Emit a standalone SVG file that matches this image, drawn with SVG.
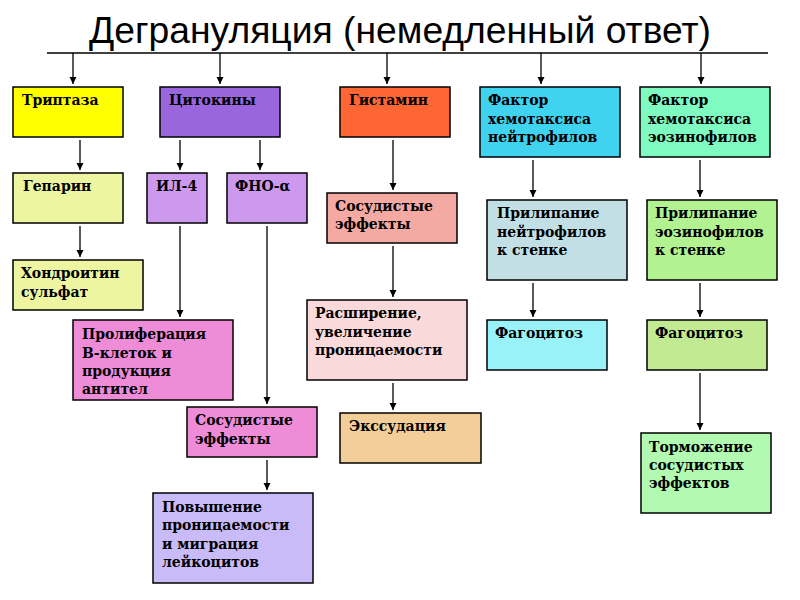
<svg xmlns="http://www.w3.org/2000/svg" width="800" height="600" viewBox="0 0 800 600">
<defs>
<marker id="ah" markerUnits="userSpaceOnUse" markerWidth="8" markerHeight="8" refX="7" refY="4" orient="auto">
<path d="M0,0.5 L7,4 L0,7.5 z" fill="#000"/>
</marker>
<style>
.b{stroke:#000;stroke-width:1.5}
.t{font-family:"DejaVu Serif","Liberation Serif",serif;font-weight:bold;font-size:14px;fill:#000}
.c line{stroke:#000;stroke-width:1.3;marker-end:url(#ah)}
</style>
</defs>
<rect width="800" height="600" fill="#fff"/>
<text x="400" y="43" text-anchor="middle" textLength="622" lengthAdjust="spacingAndGlyphs" style="font-family:'Liberation Sans',Arial,sans-serif;font-size:37px;fill:#000">Дегрануляция (немедленный ответ)</text>
<line x1="47" y1="53" x2="768" y2="53" stroke="#000" stroke-width="1.3"/>

<g id="connectors" class="c">
<line x1="73" y1="53" x2="73" y2="84"/>
<line x1="220" y1="53" x2="220" y2="84"/>
<line x1="387" y1="53" x2="387" y2="84"/>
<line x1="541" y1="53" x2="541" y2="84"/>
<line x1="701" y1="53" x2="701" y2="84"/>
<line x1="80" y1="140" x2="80" y2="170"/>
<line x1="180" y1="140" x2="180" y2="170"/>
<line x1="260" y1="140" x2="260" y2="170"/>
<line x1="393" y1="140" x2="393" y2="190"/>
<line x1="533" y1="160" x2="533" y2="197"/>
<line x1="700" y1="160" x2="700" y2="197"/>
<line x1="80" y1="226" x2="80" y2="257"/>
<line x1="180" y1="226" x2="180" y2="317"/>
<line x1="267" y1="226" x2="267" y2="404"/>
<line x1="393" y1="246" x2="393" y2="297"/>
<line x1="533" y1="283" x2="533" y2="317"/>
<line x1="700" y1="283" x2="700" y2="317"/>
<line x1="393" y1="383" x2="393" y2="410"/>
<line x1="267" y1="460" x2="267" y2="490"/>
<line x1="700" y1="373" x2="700" y2="430"/>
</g>

<g id="triptaza"><rect class="b" x="13" y="87" width="110" height="50" fill="#FFFF00"/><text class="t" x="22" y="105">Триптаза</text></g>
<g id="citokiny"><rect class="b" x="160" y="87" width="120" height="50" fill="#9966DD"/><text class="t" x="169" y="105">Цитокины</text></g>
<g id="gistamin"><rect class="b" x="340" y="87" width="110" height="50" fill="#FF6633"/><text class="t" x="349" y="105">Гистамин</text></g>
<g id="faktor_n"><rect class="b" x="480" y="87" width="140" height="70" fill="#3FD3F0"/><text class="t" x="488" y="105">Фактор</text><text class="t" x="488" y="123.5">хемотаксиса</text><text class="t" x="488" y="142">нейтрофилов</text></g>
<g id="faktor_e"><rect class="b" x="640" y="87" width="130" height="70" fill="#7FFAC0"/><text class="t" x="648" y="105">Фактор</text><text class="t" x="648" y="123.5">хемотаксиса</text><text class="t" x="648" y="142">эозинофилов</text></g>

<g id="geparin"><rect class="b" x="13" y="173" width="110" height="50" fill="#EEF5A0"/><text class="t" x="23" y="191">Гепарин</text></g>
<g id="il4"><rect class="b" x="147" y="173" width="60" height="50" fill="#CC99EE"/><text class="t" x="156" y="191">ИЛ-4</text></g>
<g id="fno"><rect class="b" x="227" y="173" width="80" height="50" fill="#CC99EE"/><text class="t" x="235" y="191">ФНО-α</text></g>
<g id="sosud1"><rect class="b" x="327" y="193" width="130" height="50" fill="#F4AAA2"/><text class="t" x="335" y="211">Сосудистые</text><text class="t" x="335" y="229">эффекты</text></g>
<g id="prilip_n"><rect class="b" x="487" y="200" width="140" height="80" fill="#C2DFE6"/><text class="t" x="497" y="218">Прилипание</text><text class="t" x="497" y="236.5">нейтрофилов</text><text class="t" x="497" y="255">к стенке</text></g>
<g id="prilip_e"><rect class="b" x="647" y="200" width="130" height="80" fill="#B2F290"/><text class="t" x="655" y="218">Прилипание</text><text class="t" x="655" y="236.5">эозинофилов</text><text class="t" x="655" y="255">к стенке</text></g>

<g id="hondroitin"><rect class="b" x="13" y="260" width="130" height="50" fill="#EEF5A0"/><text class="t" x="21" y="278">Хондроитин</text><text class="t" x="21" y="297">сульфат</text></g>
<g id="prolif"><rect class="b" x="73" y="320" width="160" height="80" fill="#EE8CD8"/><text class="t" x="82" y="339">Пролиферация</text><text class="t" x="82" y="357.5">В-клеток и</text><text class="t" x="82" y="376">продукция</text><text class="t" x="82" y="394">антител</text></g>
<g id="rasshir"><rect class="b" x="307" y="300" width="160" height="80" fill="#F9D9D9"/><text class="t" x="315" y="318">Расширение,</text><text class="t" x="315" y="337">увеличение</text><text class="t" x="315" y="355">проницаемости</text></g>
<g id="fago_n"><rect class="b" x="487" y="320" width="120" height="50" fill="#99F2F8"/><text class="t" x="495" y="338">Фагоцитоз</text></g>
<g id="fago_e"><rect class="b" x="647" y="320" width="120" height="50" fill="#C2EA92"/><text class="t" x="655" y="338">Фагоцитоз</text></g>

<g id="sosud2"><rect class="b" x="187" y="407" width="130" height="50" fill="#EE8CD8"/><text class="t" x="195" y="425">Сосудистые</text><text class="t" x="195" y="444">эффекты</text></g>
<g id="ekssud"><rect class="b" x="340" y="413" width="141" height="50" fill="#F4CE98"/><text class="t" x="349" y="431">Экссудация</text></g>
<g id="povysh"><rect class="b" x="153" y="493" width="160" height="90" fill="#C9BAF8"/><text class="t" x="162" y="512">Повышение</text><text class="t" x="162" y="530">проницаемости</text><text class="t" x="162" y="548.5">и миграция</text><text class="t" x="162" y="567">лейкоцитов</text></g>
<g id="torm"><rect class="b" x="641" y="433" width="130" height="80" fill="#B2F9B2"/><text class="t" x="649" y="452">Торможение</text><text class="t" x="649" y="470">сосудистых</text><text class="t" x="649" y="488">эффектов</text></g>
</svg>
